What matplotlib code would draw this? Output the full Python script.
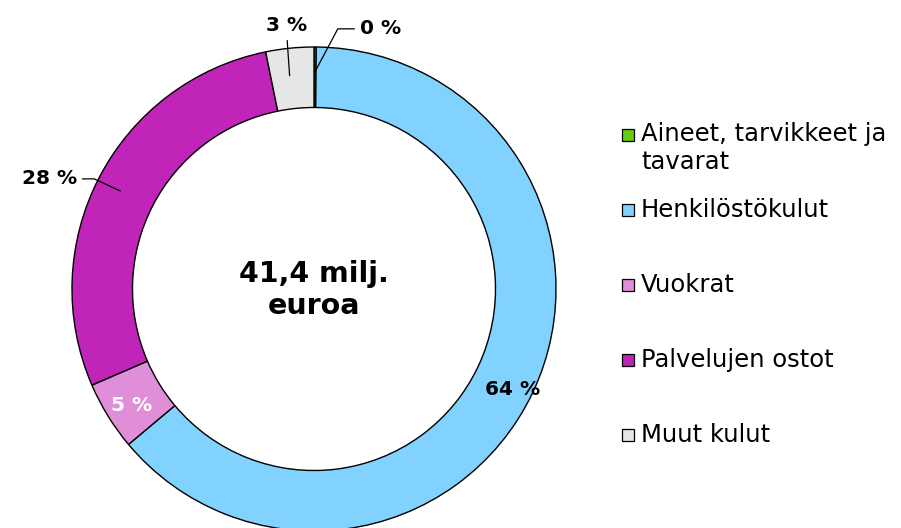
import matplotlib.pyplot as plt
from matplotlib.patches import Rectangle

# kulurakenne, osuudet (%)
categories = ["Aineet, tarvikkeet ja\ntavarat", "Henkilöstökulut", "Vuokrat",
              "Palvelujen ostot", "Muut kulut"]
shares = [0.15, 63.75, 4.6, 28.3, 3.2]
share_labels = ["0 %", "64 %", "5 %", "28 %", "3 %"]
colors = ["#66CC11", "#82D2FF", "#E08ED8", "#C024B8", "#E6E6E6"]
total_text = "41,4 milj.\neuroa"

W, H = 901, 528
fig = plt.figure(figsize=(W / 100, H / 100), dpi=100)
# donitsin keskipiste ~ (314, 289) px, säde ~242 px
cx, cy, r = 314, 289, 242
ax = fig.add_axes([(cx - r) / W, (H - cy - r) / H, 2 * r / W, 2 * r / H])

wedges, _ = ax.pie(shares, colors=colors, startangle=90, counterclock=False,
                   radius=1.0, wedgeprops=dict(width=0.25, edgecolor="black", linewidth=1.0))
ax.set_xlim(-1, 1)
ax.set_ylim(-1, 1)
ax.set_aspect("equal")
ax.axis("off")

ax.text(0, -0.005, total_text, ha="center", va="center", fontsize=20.5,
        fontweight="bold", linespacing=1.2)

fs = 14.5
# 64 % ja 5 % segmenttien sisällä
ax.annotate(share_labels[1], xy=(0.82, -0.415), ha="center", va="center",
            fontsize=fs, fontweight="bold")
ax.annotate(share_labels[2], xy=(-0.755, -0.48), ha="center", va="center",
            fontsize=fs, fontweight="bold", color="white")

# johtoviivalliset
ax.annotate(share_labels[3], xy=(-0.79, 0.40), xytext=(-0.98, 0.455),
            ha="right", va="center", fontsize=fs, fontweight="bold",
            arrowprops=dict(arrowstyle="-", color="black", lw=0.9,
                            connectionstyle="angle,angleA=0,angleB=-25,rad=0"))
ax.annotate(share_labels[4], xy=(-0.10, 0.87), xytext=(-0.115, 1.05),
            ha="center", va="bottom", fontsize=fs, fontweight="bold",
            arrowprops=dict(arrowstyle="-", color="black", lw=0.9))
ax.annotate(share_labels[0], xy=(0.0, 0.89), xytext=(0.19, 1.075),
            ha="left", va="center", fontsize=fs, fontweight="bold",
            arrowprops=dict(arrowstyle="-", color="black", lw=0.9,
                            connectionstyle="angle,angleA=0,angleB=62,rad=0"))

# selite
ys = [135, 210, 285, 360, 435]
for lab, col, y in zip(categories, colors, ys):
    fig.patches.append(Rectangle((622 / W, (H - y - 6) / H), 12 / W, 12 / H,
                                 transform=fig.transFigure, facecolor=col,
                                 edgecolor="black", linewidth=0.9))
    if "\n" in lab:
        fig.text(641 / W, (H - y + 13) / H, lab, ha="left", va="top",
                 fontsize=17.5, linespacing=1.2)
    else:
        fig.text(641 / W, (H - y) / H, lab, ha="left", va="center", fontsize=17.5)

fig.savefig("out.png", dpi=100)
